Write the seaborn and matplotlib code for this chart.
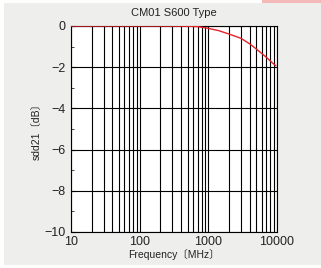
import numpy as np
import pandas as pd
import matplotlib
matplotlib.use("Agg")
import matplotlib.pyplot as plt
import seaborn as sns
from matplotlib.patches import Rectangle
from matplotlib.ticker import FixedLocator, NullFormatter

freq_mhz = [10, 50, 200, 500, 700, 950, 1400, 2000, 3000, 4100, 5600, 7000, 8500, 9600]
sdd21_db = [0.0, 0.0, 0.0, -0.01, -0.03, -0.1, -0.22, -0.39, -0.6, -0.89, -1.25, -1.52, -1.78, -1.93]
x_ticks = [10, 100, 1000, 10000]
x_tick_labels = ["10", "100", "1000", "10000"]
y_ticks = [0, -2, -4, -6, -8, -10]
title = "CM01 S600 Type"
xlabel = "Frequency〔MHz〕"
ylabel = "sdd21〔dB〕"

sns.set_theme(style="white")
plt.rcParams['font.family'] = ['Liberation Sans', 'Noto Sans CJK JP', 'DejaVu Sans']
plt.rcParams['axes.unicode_minus'] = True

fig = plt.figure(figsize=(3.21, 2.68), dpi=100, facecolor="white")
fig.patches.append(Rectangle((4/321, 3/268), 317/321, 262/268, transform=fig.transFigure,
                             facecolor="#eeefed", edgecolor="none", zorder=-10))
fig.patches.append(Rectangle((262/321, 265/268), 59/321, 3/268, transform=fig.transFigure,
                             facecolor="#f5b8b8", edgecolor="none", zorder=-10))

ax = fig.add_axes([71/321, 1 - 232/268, 206/321, 206/268])
ax.set_zorder(1)
ax.set_facecolor("white")

df = pd.DataFrame({"f": freq_mhz, "s": sdd21_db})
sns.lineplot(data=df, x="f", y="s", ax=ax, color="#e8212a", linewidth=1.0, zorder=5)

ax.set_xscale("log")
ax.set_xlim(10, 10000)
ax.set_ylim(-10, 0)
ax.xaxis.set_major_locator(FixedLocator(x_ticks))
ax.set_xticklabels(x_tick_labels)
minor = [m * d for d in [10, 100, 1000] for m in range(2, 10)]
ax.xaxis.set_minor_locator(FixedLocator(minor))
ax.xaxis.set_minor_formatter(NullFormatter())
ax.set_yticks(y_ticks)
ax.set_yticklabels(["0", "−2", "−4", "−6", "−8", "−10"])
ax.yaxis.set_minor_locator(FixedLocator([-1, -3, -5, -7, -9]))

ax.grid(True, which="major", axis="both", color="black", linewidth=0.8)
ax.grid(True, which="minor", axis="x", color="black", linewidth=0.8)
ax.tick_params(axis="y", which="major", direction="in", length=3, width=0.8,
               labelsize=9, colors="black", pad=4, left=True)
ax.tick_params(axis="x", which="major", direction="in", length=0,
               labelsize=9, colors="black", pad=3, bottom=False)
ax.tick_params(axis="y", which="minor", direction="in", length=2, width=0.6, left=True)
ax.tick_params(axis="x", which="minor", bottom=False)
ax.tick_params(axis="both", labelcolor="#222222")
for sp in ax.spines.values():
    sp.set_color("black")
    sp.set_linewidth(0.8)

ax.set_title(title, fontsize=8, color="#222222", pad=7)
ax.set_xlabel(xlabel, fontsize=7.5, color="#222222", labelpad=1)
ax.set_ylabel(ylabel, fontsize=7.5, color="#222222", labelpad=2)

fig.savefig("out.png", dpi=100, facecolor="white")
